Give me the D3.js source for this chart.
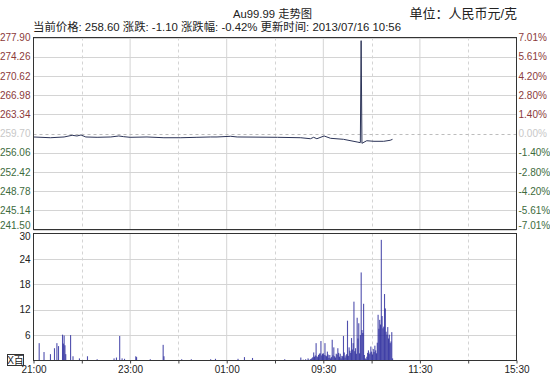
<!DOCTYPE html>
<html>
<head>
<meta charset="utf-8">
<script src="https://cdn.jsdelivr.net/npm/d3@7"></script>
<style>
  body { margin: 0; background: #fff; }
  text { font-family: "Liberation Sans", Arial, "Noto Sans CJK SC", sans-serif; }
</style>
</head>
<body>
<div id="chart"></div>
<script>
// price ticks (left) and change ticks (right)
const priceTicks = [277.90, 274.26, 270.62, 266.98, 263.34, 259.70, 256.06, 252.42, 248.78, 245.14, 241.50];
const pctTicks = ["7.01%", "5.61%", "4.20%", "2.80%", "1.40%", "0.00%", "-1.40%", "-2.80%", "-4.20%", "-5.61%", "-7.01%"];
const prevClose = 259.70;
const volTicks = [6, 12, 18, 24, 30];

// time axis
const timeLabels = ["21:00", "23:00", "01:00", "09:30", "11:30", "15:30"];
const halfLabels = ["22:00", "00:00", "02:00", "10:30", "14:30"];

// price line [time, price]
const priceData = [
  ["21:00", 259.04], ["21:21", 258.90], ["21:38", 259.04], ["21:48", 259.36], ["21:54", 259.23],
  ["21:59", 259.42], ["22:05", 259.04], ["22:19", 258.98], ["22:36", 259.04], ["22:46", 259.23],
  ["22:52", 259.10], ["23:00", 258.98], ["23:21", 259.04], ["23:42", 258.90], ["00:03", 258.90],
  ["00:23", 258.98], ["00:40", 259.04], ["00:48", 259.04], ["01:05", 259.17], ["01:13", 259.04],
  ["02:03", 258.98], ["09:02", 258.90], ["09:14", 258.71], ["09:18", 258.98], ["09:22", 258.71],
  ["09:31", 259.23], ["09:39", 258.79], ["09:55", 258.60], ["10:12", 258.09], ["10:16", 257.96],
  ["10:17", 277.30], ["10:18", 257.84], ["10:24", 258.33], ["10:33", 258.22], ["10:45", 258.22],
  ["10:53", 258.41], ["10:56", 258.60]
];

// night session volume (hundreds) [time, value]
const nightVolume = [
  ["21:07", 4.1], ["21:13", 2.0], ["21:21", 1.5], ["21:26", 2.9], ["21:29", 4.1], ["21:31", 3.4],
  ["21:36", 6.1], ["21:37", 4.0], ["21:38", 5.9], ["21:39", 3.6], ["21:40", 1.5], ["21:46", 6.0],
  ["21:49", 1.0], ["21:57", 0.5], ["22:07", 1.0], ["22:19", 0.3], ["22:40", 0.5], ["22:43", 0.7],
  ["22:47", 5.8], ["22:50", 0.5], ["22:53", 0.4], ["23:07", 1.0], ["23:08", 0.8], ["23:25", 0.3],
  ["23:41", 3.7], ["23:42", 1.0], ["00:04", 0.3], ["00:16", 0.3], ["00:40", 0.3], ["00:46", 0.4],
  ["01:14", 0.4], ["01:22", 0.8], ["01:32", 0.6], ["02:12", 0.3]
];

// morning volume, one value per minute from 09:00 to 10:56
const morningStart = "09:00";
const morningVolume = [
  0, 0, 0.7, 0, 0, 0.2, 0, 0, 0.3, 0,
  0, 0.5, 0.2, 0, 0.3, 0.4, 0.6, 0.8, 1.9, 0.9,
  1.2, 4.1, 1.0, 0.8, 1.3, 1.6, 1.7, 4.6, 1.2, 1.6,
  1.7, 1.3, 4.1, 1.2, 1.0, 2.1, 1.4, 0.6, 1.3, 0.5,
  0.8, 4.9, 1.2, 3.1, 1.0, 0.7, 1.6, 1.4, 2.9, 1.8,
  0.9, 1.6, 0.5, 1.1, 1.0, 5.8, 1.9, 0.7, 1.2, 1.5,
  9.4, 1.1, 3.1, 2.3, 1.8, 5.3, 2.6, 4.1, 13.9, 2.2,
  2.9, 1.6, 10.1, 5.2, 8.8, 1.7, 6.0, 20.8, 7.2, 6.5,
  13.4, 1.3, 0.5, 0.4, 0.9, 1.8, 2.4, 1.5, 1.9, 3.3,
  2.1, 1.4, 2.7, 2.0, 3.5, 2.4, 1.7, 4.2, 10.8, 7.5,
  9.6, 8.5, 28.5, 10.5, 7.6, 8.0, 15.7, 12.3, 6.8, 6.1,
  7.9, 5.2, 6.1, 4.1, 4.5, 6.7, 0.5
];

// minutes into the trading day (21:00-02:30, 09:00-11:30, 13:30-15:30)
function tradeMin(t) {
  const [h, m] = t.split(":").map(Number);
  if (h >= 21) return (h - 21) * 60 + m;
  if (h < 3) return (h + 3) * 60 + m;
  if (h < 12) return 330 + (h - 9) * 60 + m;
  return 480 + (h - 13) * 60 + m - 30;
}

const W = 550, H = 377;
const left = 33.5, right = 516.5;
const upTop = 37.5, upBottom = 229.5;
const lowTop = 233.5, lowBottom = 360.5;

const svg = d3.select("#chart").append("svg")
  .attr("width", W).attr("height", H);

const x = d3.scaleLinear().domain([0, 600]).range([left, right]);
const yPrice = d3.scaleLinear().domain([241.50, 277.90]).range([upBottom, upTop]);
const yVol = d3.scaleLinear().domain([0, 30]).range([lowBottom, lowTop]);

const gridColor = "#d4d4d4";
const upColor = "#8b3a3a", downColor = "#3d6b3d", flatColor = "#c8c8c8";

// header
svg.append("text").attr("x", 233).attr("y", 18)
  .attr("font-size", 11.5).attr("fill", "#222")
  .attr("textLength", 79).attr("lengthAdjust", "spacingAndGlyphs")
  .text("Au99.99 走势图");
svg.append("text").attr("x", 517).attr("y", 18).attr("text-anchor", "end")
  .attr("font-size", 13).attr("fill", "#222")
  .text("单位：人民币元/克");
svg.append("text").attr("x", 33).attr("y", 31)
  .attr("font-size", 11.5).attr("fill", "#222")
  .attr("textLength", 368).attr("lengthAdjust", "spacingAndGlyphs")
  .text("当前价格: 258.60 涨跌: -1.10 涨跌幅: -0.42% 更新时间: 2013/07/16 10:56");

// grids, both panels
const panels = [[upTop, upBottom], [lowTop, lowBottom]];
panels.forEach(([t, b]) => {
  svg.append("g").selectAll("line")
    .data(timeLabels.slice(1, -1))
    .join("line")
      .attr("x1", d => x(tradeMin(d))).attr("x2", d => x(tradeMin(d)))
      .attr("y1", t).attr("y2", b)
      .attr("stroke", gridColor);
  svg.append("g").selectAll("line")
    .data(halfLabels)
    .join("line")
      .attr("x1", d => Math.round(x(tradeMin(d))) + 0.5).attr("x2", d => Math.round(x(tradeMin(d))) + 0.5)
      .attr("y1", t).attr("y2", b)
      .attr("stroke", gridColor).attr("stroke-dasharray", "3,3");
});

svg.append("g").selectAll("line")
  .data(priceTicks.filter(d => d !== prevClose))
  .join("line")
    .attr("x1", left).attr("x2", right)
    .attr("y1", d => Math.round(yPrice(d)) + 0.5).attr("y2", d => Math.round(yPrice(d)) + 0.5)
    .attr("stroke", gridColor);
svg.append("line")
  .attr("x1", left).attr("x2", right)
  .attr("y1", Math.round(yPrice(prevClose)) + 0.5).attr("y2", Math.round(yPrice(prevClose)) + 0.5)
  .attr("stroke", "#bdbdbd").attr("stroke-dasharray", "3,3");

svg.append("g").selectAll("line")
  .data(volTicks.slice(0, -1))
  .join("line")
    .attr("x1", left).attr("x2", right)
    .attr("y1", d => Math.round(yVol(d)) + 0.5).attr("y2", d => Math.round(yVol(d)) + 0.5)
    .attr("stroke", gridColor);

// price axes
const tickColor = d => d > prevClose ? upColor : (d < prevClose ? downColor : flatColor);
const leftAxis = svg.append("g")
  .attr("transform", `translate(${left},0)`)
  .call(d3.axisLeft(yPrice).tickValues(priceTicks).tickSize(0).tickPadding(3).tickFormat(d3.format(".2f")));
const rightAxis = svg.append("g")
  .attr("transform", `translate(${right},0)`)
  .call(d3.axisRight(yPrice).tickValues(priceTicks).tickSize(0).tickPadding(2)
    .tickFormat((d, i) => pctTicks[i]));
[leftAxis, rightAxis].forEach(g => {
  g.select(".domain").remove();
  g.selectAll("text")
    .attr("font-family", "Liberation Sans, Arial, sans-serif")
    .attr("font-size", 10)
    .attr("fill", d => tickColor(d))
    .attr("y", d => d === priceTicks[priceTicks.length - 1] ? -4.5 : 0);
});

// volume axis
const volAxis = svg.append("g")
  .attr("transform", `translate(${left},0)`)
  .call(d3.axisLeft(yVol).tickValues(volTicks).tickSize(0).tickPadding(3));
volAxis.select(".domain").remove();
volAxis.selectAll("text")
  .attr("font-family", "Liberation Sans, Arial, sans-serif")
  .attr("font-size", 10).attr("fill", "#222")
  .attr("y", d => d === volTicks[volTicks.length - 1] ? 3 : 0);

// time axis
const xAxis = svg.append("g")
  .attr("transform", `translate(0,${lowBottom})`)
  .call(d3.axisBottom(x)
    .tickValues(timeLabels.concat(halfLabels).map(tradeMin))
    .tickSize(3).tickPadding(2)
    .tickFormat(d => { const i = timeLabels.map(tradeMin).indexOf(d); return i >= 0 ? timeLabels[i] : ""; }));
xAxis.select(".domain").remove();
xAxis.selectAll("line").attr("stroke", "#444");
xAxis.selectAll("text")
  .attr("font-family", "Liberation Sans, Arial, sans-serif")
  .attr("font-size", 10).attr("fill", "#222");

// volume bars
const volData = nightVolume.map(([t, v]) => ({ m: tradeMin(t), v }))
  .concat(morningVolume.map((v, i) => ({ m: tradeMin(morningStart) + i, v })))
  .filter(d => d.v > 0);
svg.append("g").selectAll("rect")
  .data(volData)
  .join("rect")
    .attr("x", d => x(d.m) - 0.5)
    .attr("width", 1.1)
    .attr("y", d => yVol(d.v))
    .attr("height", d => lowBottom - yVol(d.v))
    .attr("fill", "#24249a")
    .attr("fill-opacity", 0.8);

// price line
const line = d3.line()
  .x(d => x(tradeMin(d[0])))
  .y(d => yPrice(d[1]));
svg.append("path")
  .datum(priceData)
  .attr("d", line)
  .attr("fill", "none")
  .attr("stroke", "#2c3458")
  .attr("stroke-width", 1);

// panel frames
panels.forEach(([t, b]) => {
  svg.append("rect")
    .attr("x", left).attr("y", t)
    .attr("width", right - left).attr("height", b - t)
    .attr("fill", "none").attr("stroke", "#333");
});

// unit box
svg.append("rect").attr("x", 7.5).attr("y", 354.5).attr("width", 16).attr("height", 11)
  .attr("fill", "#fff").attr("stroke", "#333");
svg.append("text").attr("x", 15.5).attr("y", 364).attr("text-anchor", "middle")
  .attr("font-size", 10).attr("fill", "#222").text("X百");
</script>
</body>
</html>
